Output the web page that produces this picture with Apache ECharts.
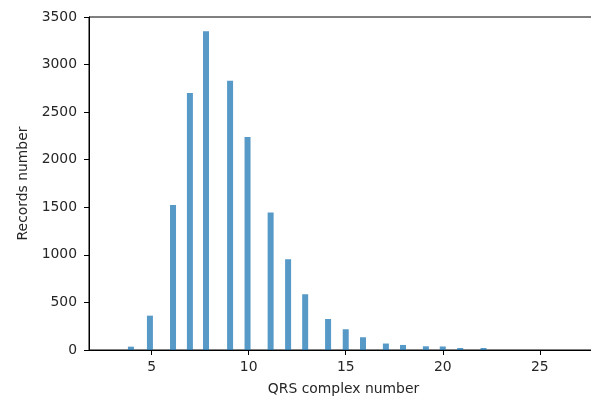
<!DOCTYPE html>
<html>
<head>
<meta charset="utf-8">
<script src="https://cdn.jsdelivr.net/npm/echarts@6/dist/echarts.min.js"></script>
<style>
  html, body { margin: 0; padding: 0; background: #fff; }
  #chart { width: 591px; height: 396px; }
</style>
</head>
<body>
<div id="chart"></div>
<script>
// histogram bin centres (QRS complexes per record) and record counts
const binCenters = [3.93, 4.91, 6.1, 6.97, 7.8, 9.04, 9.94, 11.13, 12.03, 12.91, 14.09, 15.0, 15.89, 17.07, 17.95, 19.13, 20.0, 20.9, 22.1];
const counts = [35, 361, 1525, 2700, 3349, 2830, 2238, 1444, 954, 586, 326, 218, 134, 68, 53, 39, 37, 21, 21];
const xTicks = [5, 10, 15, 20, 25];
const yTicks = [0, 500, 1000, 1500, 2000, 2500, 3000, 3500];

const chart = echarts.init(document.getElementById('chart'));

const labelFont = {
  fontFamily: 'DejaVu Sans',
  fontSize: 13.9,
  color: '#262626',
};

const option = {
  animation: false,
  grid: {
    left: 89,
    top: 17,
    width: 509,
    height: 333,
    outerBoundsMode: 'none',
    // box frame: right side falls outside the canvas like the cropped original
    show: true,
    borderColor: '#000',
    borderWidth: 1,
    backgroundColor: 'transparent',
  },
  xAxis: {
    type: 'value',
    min: 1.77,
    max: 28,
    name: 'QRS complex number',
    nameLocation: 'middle',
    nameGap: 32,
    nameTextStyle: labelFont,
    axisLine: { show: true, onZero: false, lineStyle: { color: '#000', width: 1 } },
    axisTick: { show: true, inside: false, length: 5, customValues: xTicks, lineStyle: { color: '#000' } },
    axisLabel: { ...labelFont, margin: 10, customValues: xTicks },
    splitLine: { show: false },
  },
  yAxis: {
    type: 'value',
    min: 0,
    max: 3500,
    interval: 500,
    name: 'Records number',
    nameLocation: 'middle',
    nameGap: 55,
    nameTextStyle: labelFont,
    axisLine: { show: true, lineStyle: { color: '#000', width: 1 } },
    axisTick: { show: true, inside: false, length: 5, lineStyle: { color: '#000' } },
    axisLabel: {
      ...labelFont,
      margin: 12,
      formatter: (v) => (yTicks.includes(v) ? String(v) : ''),
    },
    splitLine: { show: false },
  },
  series: [
    {
      type: 'bar',
      data: binCenters.map((x, i) => [x, counts[i]]),
      barWidth: 6,
      itemStyle: { color: 'rgba(31,119,180,0.75)' },
    },
  ],
};

chart.setOption(option);
</script>
</body>
</html>
